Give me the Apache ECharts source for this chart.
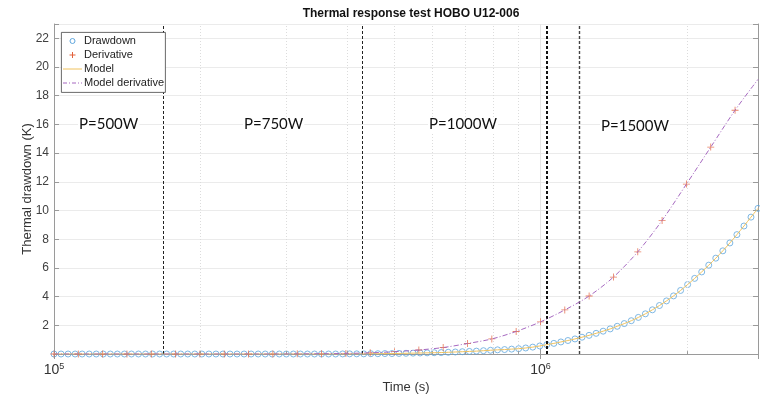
<!DOCTYPE html>
<html>
<head>
<meta charset="utf-8">
<title>Thermal response test HOBO U12-006</title>
<script src="https://cdn.jsdelivr.net/npm/echarts@6/dist/echarts.min.js"></script>
<style>
html, body { margin: 0; padding: 0; background: #fff; }
#chart { width: 760px; height: 394px; }
</style>
</head>
<body>
<div id="chart"></div>
<script>
// drawdown samples (s, K)
const drawdownTime = [
  100000, 103390, 106890, 110510, 114260, 118130, 122130, 126270, 130550, 134980,
  139550, 144280, 149170, 154220, 159440, 164850, 170430, 176210, 182180, 188350,
  194740, 201330, 208150, 215210, 222500, 230040, 237830, 245890, 254220, 262840,
  271750, 280950, 290480, 300320, 310500, 321010, 331890, 343140, 354760, 366790,
  379220, 392070, 405340, 419080, 433280, 447960, 463140, 478840, 495060, 511830,
  529180, 547110, 565650, 584820, 604640, 625130, 646300, 668200, 690840, 714250,
  738460, 763480, 789350, 816090, 843740, 872330, 901900, 932460, 964060, 996730,
  1030500, 1065400, 1101500, 1138800, 1177400, 1217300, 1258600, 1301200, 1345300, 1390900,
  1438000, 1486700, 1537100, 1589200, 1643100, 1698700, 1756300, 1815800, 1877400, 1941000,
  2006800, 2074800, 2145100, 2217800, 2293000, 2370700, 2451000, 2534100, 2619900, 2708700, 2800000
];
const drawdownK = [
  0, 0, 0, 0, 0, 0, 0, 0, 0, 0,
  0, 0, 0, 0, 0, 0, 0, 0, 0, 0,
  0, 0, 0, 0, 0, 0, 0, 0, 0, 0,
  0, 0, 0, 0, 0, 0, 0, 0, 0, 0,
  0, 0.005, 0.01, 0.01, 0.01, 0.02, 0.02, 0.03, 0.03, 0.04,
  0.05, 0.06, 0.07, 0.08, 0.09, 0.10, 0.12, 0.14, 0.16, 0.18,
  0.20, 0.23, 0.26, 0.29, 0.31, 0.34, 0.37, 0.42, 0.48, 0.56,
  0.65, 0.74, 0.84, 0.94, 1.05, 1.17, 1.30, 1.44, 1.59, 1.75,
  1.93, 2.12, 2.32, 2.55, 2.80, 3.08, 3.38, 3.70, 4.05, 4.43,
  4.84, 5.27, 5.72, 6.19, 6.68, 7.19, 7.74, 8.32, 8.92, 9.54, 10.15
];
// derivative samples
const derivTime = [
  100000, 112200, 125890, 141250, 158490, 177830, 199530, 223870, 251190, 281840,
  316230, 354810, 398110, 446680, 501190, 562340, 630960, 707950, 794330, 891250,
  1000000, 1122000, 1258900, 1412500, 1584900, 1778300, 1995300, 2238700, 2511900
];
const derivK = [
  0, 0, 0, 0, 0, 0, 0, 0, 0, 0,
  0.01, 0.02, 0.04, 0.08, 0.16, 0.28, 0.45, 0.73, 1.05, 1.57,
  2.24, 3.07, 4.04, 5.36, 7.12, 9.31, 11.84, 14.42, 16.99
];
// model derivative curve
const modelDerivTime = [
  100000, 112200, 125890, 141250, 158490, 177830, 199530, 223870, 251190, 281840,
  316230, 354810, 398110, 446680, 501190, 562340, 630960, 707950, 794330, 891250,
  1000000, 1122000, 1258900, 1412500, 1584900, 1778300, 1995300, 2238700, 2511900, 2800000
];
const modelDerivK = [
  0, 0, 0, 0, 0, 0, 0, 0, 0, 0,
  0.01, 0.02, 0.04, 0.08, 0.16, 0.28, 0.45, 0.73, 1.05, 1.57,
  2.24, 3.07, 4.04, 5.36, 7.12, 9.31, 11.84, 14.42, 16.99, 19.14
];
// heater power changes (s)
const stepTimes = [167500, 430700, 1030000, 1200000];
const powerLabels = ['P=500W', 'P=750W', 'P=1000W', 'P=1500W'];
const minorGrid = [200000, 300000, 400000, 500000, 600000, 700000, 800000, 900000, 2000000];
const seriesNames = ['Drawdown', 'Derivative', 'Model', 'Model derivative'];

const colors = { drawdown: '#5fa6dd', deriv: '#e2603a', model: '#f0c25e', modelDeriv: '#a669c0' };
const pair = (xs, ys) => xs.map((t, i) => [t, ys[i]]);
const plusPath = 'path://M4.4,0H5.6V4.4H10V5.6H5.6V10H4.4V5.6H0V4.4H4.4Z';

var chart = echarts.init(document.getElementById('chart'));

var stepStyles = [
  { width: 1, color: '#222' },
  { width: 1, color: '#222' },
  { width: 2, color: '#111' },
  { width: 1.4, color: '#444' }
];

// hand-built legend box (MATLAB style)
function legendGraphic() {
  var x0 = 61, y0 = 32, rowH = 14, txtX = 84, ix0 = 63, ix1 = 82, icx = 72.5;
  var els = [{
    type: 'rect', left: x0, top: y0, z: 20,
    shape: { width: 104, height: 60 },
    style: { fill: '#fff', stroke: '#444', lineWidth: 0.8 }
  }];
  seriesNames.forEach(function (n, i) {
    var cy = y0 + 9 + i * rowH;
    els.push({
      type: 'text', x: txtX, y: cy, z: 21,
      style: { text: n, font: '11px "Liberation Sans"', fill: '#222', verticalAlign: 'middle' }
    });
  });
  var c0 = y0 + 9;
  els.push({ type: 'circle', z: 21, shape: { cx: icx, cy: c0, r: 2.5 },
    style: { fill: 'none', stroke: colors.drawdown, lineWidth: 1 } });
  els.push({ type: 'line', z: 21, shape: { x1: icx - 3, y1: c0 + rowH, x2: icx + 3, y2: c0 + rowH },
    style: { stroke: colors.deriv, lineWidth: 1 } });
  els.push({ type: 'line', z: 21, shape: { x1: icx, y1: c0 + rowH - 3, x2: icx, y2: c0 + rowH + 3 },
    style: { stroke: colors.deriv, lineWidth: 1 } });
  els.push({ type: 'line', z: 21, shape: { x1: ix0, y1: c0 + 2 * rowH, x2: ix1, y2: c0 + 2 * rowH },
    style: { stroke: colors.model, lineWidth: 1 } });
  els.push({ type: 'line', z: 21, shape: { x1: ix0, y1: c0 + 3 * rowH, x2: ix1, y2: c0 + 3 * rowH },
    style: { stroke: colors.modelDeriv, lineWidth: 1, lineDash: [4, 2, 1, 2] } });
  return els;
}

var labelPos = [[78, 117], [243, 117], [428, 117], [600, 119]];
var textEls = powerLabels.map(function (t, i) {
  return {
    type: 'text', left: labelPos[i][0], top: labelPos[i][1], z: 15,
    style: { text: t, font: '15px Lato', fill: '#111', backgroundColor: '#fff', padding: [0, 1] }
  };
});

var option = {
  animation: false,
  title: {
    text: 'Thermal response test HOBO U12-006',
    left: 406,
    textAlign: 'center',
    top: 3,
    textStyle: { fontFamily: 'Liberation Sans', fontSize: 12, fontWeight: 'bold', color: '#111' }
  },
  grid: { left: 54, right: 2, top: 24, bottom: 40, containLabel: false, outerBoundsMode: 'none' },
  xAxis: [
    {
      type: 'log',
      logBase: 10,
      min: 100000,
      max: 2800000,
      name: 'Time (s)',
      nameLocation: 'middle',
      nameGap: 27,
      nameMoveOverlap: false,
      nameTextStyle: { fontFamily: 'Liberation Sans', fontSize: 13, color: '#333' },
      axisLine: { lineStyle: { color: '#9a9a9a' } },
      axisTick: { inside: true, length: 5, lineStyle: { color: '#9a9a9a' } },
      splitLine: { show: true, lineStyle: { color: '#e6e6e6' } },
      axisLabel: {
        showMaxLabel: false,
        margin: 8,
        formatter: function (v) {
          var e = Math.round(Math.log10(v));
          if (Math.abs(Math.log10(v) - e) > 1e-6) return '';
          return '{b|10}{s|' + e + '}';
        },
        rich: {
          b: { fontFamily: 'Liberation Sans', fontSize: 14, color: '#333', verticalAlign: 'bottom', lineHeight: 15 },
          s: { fontFamily: 'Liberation Sans', fontSize: 9, color: '#333', verticalAlign: 'top', lineHeight: 9 }
        }
      }
    },
    {
      type: 'log',
      logBase: 10,
      min: 100000,
      max: 2800000,
      position: 'top',
      axisLine: { lineStyle: { color: '#9a9a9a' } },
      axisTick: { inside: true, length: 5, lineStyle: { color: '#9a9a9a' } },
      axisLabel: { show: false },
      splitLine: { show: false }
    }
  ],
  yAxis: [
    {
      type: 'value',
      min: 0,
      max: 23,
      interval: 2,
      name: 'Thermal drawdown (K)',
      nameLocation: 'middle',
      nameGap: 20,
      nameMoveOverlap: false,
      nameTextStyle: { fontFamily: 'Liberation Sans', fontSize: 13, color: '#333' },
      axisLine: { show: true, lineStyle: { color: '#9a9a9a' } },
      axisTick: { show: true, inside: true, length: 5, lineStyle: { color: '#9a9a9a' } },
      splitLine: { lineStyle: { color: '#ebebeb' } },
      axisLabel: {
        fontFamily: 'Liberation Sans',
        fontSize: 12,
        color: '#404040',
        margin: 5,
        formatter: function (v) { return (v === 0 || v > 22) ? '' : v; }
      }
    },
    {
      type: 'value',
      min: 0,
      max: 23,
      interval: 2,
      position: 'right',
      axisLine: { show: true, lineStyle: { color: '#9a9a9a' } },
      axisTick: { show: true, inside: true, length: 5, lineStyle: { color: '#9a9a9a' } },
      axisLabel: { show: false },
      splitLine: { show: false }
    }
  ],
  graphic: textEls.concat(legendGraphic()),
  series: [
    {
      // grid helpers and step markers
      type: 'line',
      data: [],
      silent: true,
      markLine: {
        silent: true,
        symbol: 'none',
        label: { show: false },
        animation: false,
        data: minorGrid.map(function (t) {
          return { xAxis: t, lineStyle: { color: '#dcdcdc', width: 1, type: [1, 2] } };
        }).concat(minorGrid.map(function (t) {
          return [
            { coord: [t, 0], lineStyle: { color: '#9a9a9a', width: 1, type: 'solid' } },
            { coord: [t, 0.2] }
          ];
        })).concat(stepTimes.map(function (t, i) {
          return { xAxis: t, lineStyle: { color: stepStyles[i].color, width: stepStyles[i].width, type: [3, 2] } };
        }))
      }
    },
    {
      name: 'Drawdown',
      type: 'scatter',
      data: pair(drawdownTime, drawdownK),
      symbol: 'circle',
      symbolSize: 6,
      itemStyle: { color: 'rgba(255,255,255,0)', borderColor: colors.drawdown, borderWidth: 1 },
      z: 3
    },
    {
      name: 'Derivative',
      type: 'scatter',
      data: pair(derivTime, derivK),
      symbol: plusPath,
      symbolSize: 7,
      itemStyle: { color: colors.deriv },
      z: 4
    },
    {
      name: 'Model',
      type: 'line',
      data: pair(drawdownTime, drawdownK),
      symbol: 'none',
      smooth: 0.3,
      lineStyle: { color: colors.model, width: 1 },
      z: 5
    },
    {
      name: 'Model derivative',
      type: 'line',
      data: pair(modelDerivTime, modelDerivK),
      symbol: 'none',
      smooth: 0.3,
      lineStyle: { color: colors.modelDeriv, width: 1, type: [5, 2, 1, 2] },
      z: 5
    }
  ]
};

chart.setOption(option);
window.addEventListener('resize', function () {
  chart.resize();
});
</script>
</body>
</html>
